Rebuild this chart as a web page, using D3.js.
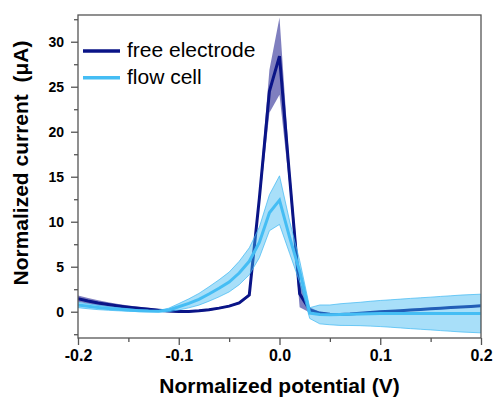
<!DOCTYPE html>
<html>
<head>
<meta charset="utf-8">
<script src="https://cdn.jsdelivr.net/npm/d3@7"></script>
<style>
  body { margin: 0; background: #fff; }
  svg { display: block; font-family: Arial, "Liberation Sans", sans-serif; }
</style>
</head>
<body>
<svg id="chart" width="493" height="398"></svg>
<script>
// potential grid (V)
const potential = [-0.20,-0.19,-0.18,-0.17,-0.16,-0.15,-0.14,-0.13,-0.12,-0.11,
  -0.10,-0.09,-0.08,-0.07,-0.06,-0.05,-0.04,-0.03,-0.02,-0.01,
  0.00,0.01,0.02,0.03,0.04,0.05,0.06,0.07,0.08,0.09,
  0.10,0.11,0.12,0.13,0.14,0.15,0.16,0.17,0.18,0.19,0.20];

// free electrode mean + sd (uA)
const freeMean = [1.45,1.2,0.98,0.8,0.64,0.5,0.38,0.27,0.16,0.07,
  0.02,0.03,0.1,0.22,0.4,0.62,0.98,1.85,12.6,24.5,
  28.4,15.0,2.0,0.2,-0.15,-0.28,-0.3,-0.26,-0.18,-0.08,
  0.0,0.06,0.12,0.19,0.26,0.32,0.39,0.46,0.52,0.59,0.65];
const freeSd = [0.35,0.32,0.29,0.26,0.23,0.2,0.18,0.16,0.14,0.12,
  0.12,0.1,0.1,0.1,0.1,0.1,0.12,0.2,0.8,2.4,
  4.3,1.2,1.5,0.3,0.12,0.1,0.1,0.1,0.1,0.1,
  0.1,0.1,0.1,0.1,0.1,0.1,0.1,0.1,0.1,0.1,0.1];

// flow cell mean + sd (uA)
const flowMean = [0.75,0.6,0.47,0.36,0.27,0.19,0.12,0.07,0.06,0.19,
  0.55,0.93,1.38,1.97,2.6,3.3,4.3,5.6,7.7,11.0,
  12.4,8.3,4.5,-0.15,-0.3,-0.35,-0.32,-0.28,-0.25,-0.22,
  -0.2,-0.2,-0.2,-0.2,-0.2,-0.2,-0.2,-0.2,-0.2,-0.2,-0.2];
const flowSd = [0.3,0.27,0.24,0.2,0.17,0.14,0.1,0.08,0.08,0.2,
  0.35,0.5,0.65,0.8,0.95,1.1,1.3,1.5,1.7,2.0,
  2.7,1.8,1.2,0.6,1.05,1.1,1.2,1.25,1.3,1.38,
  1.45,1.52,1.6,1.68,1.75,1.82,1.9,1.97,2.05,2.1,2.15];

const xTicks = [-0.2,-0.1,0.0,0.1,0.2];
const xTickLabels = ["-0.2","-0.1","0.0","0.1","0.2"];
const xMinor = [-0.15,-0.05,0.05,0.15];
const yTicks = [0,5,10,15,20,25,30];
const yMinor = [-2.5,2.5,7.5,12.5,17.5,22.5,27.5,32.5];
const seriesNames = ["free electrode","flow cell"];

const margin = {left:78, right:12, top:15, bottom:60};
const W = 493, H = 398;

const svg = d3.select("#chart");

var x = d3.scaleLinear().domain([-0.2,0.2]).range([margin.left, W - margin.right]);
var y = d3.scaleLinear().domain([-2.92,32.97]).range([H - margin.bottom, margin.top]);

const rows = potential.map((p,i) => ({p:p, fm:freeMean[i], fs:freeSd[i], cm:flowMean[i], cs:flowSd[i]}));

const darkCol = "#0a1487", lightCol = "#45bdf4";

// clip to plot
svg.append("clipPath").attr("id","plotclip")
  .append("rect")
  .attr("x", margin.left).attr("y", margin.top)
  .attr("width", W - margin.left - margin.right)
  .attr("height", H - margin.top - margin.bottom);

const plot = svg.append("g").attr("clip-path","url(#plotclip)");

// free electrode band + line
plot.append("path")
  .datum(rows)
  .attr("d", d3.area().x(d => x(d.p)).y0(d => y(d.fm - d.fs)).y1(d => y(d.fm + d.fs)))
  .attr("fill", "#000080").attr("fill-opacity", 0.5);

plot.append("path")
  .datum(rows)
  .attr("d", d3.line().x(d => x(d.p)).y(d => y(d.fm)))
  .attr("fill","none").attr("stroke", darkCol).attr("stroke-width", 3)
  .attr("stroke-linejoin","miter");

// flow cell band + line
plot.append("path")
  .datum(rows)
  .attr("d", d3.area().x(d => x(d.p)).y0(d => y(d.cm - d.cs)).y1(d => y(d.cm + d.cs)))
  .attr("fill", "#3fb8f2").attr("fill-opacity", 0.45)
  .attr("stroke", "#3fb8f2").attr("stroke-opacity", 0.7).attr("stroke-width", 1);

plot.append("path")
  .datum(rows)
  .attr("d", d3.line().x(d => x(d.p)).y(d => y(d.cm)))
  .attr("fill","none").attr("stroke", lightCol).attr("stroke-width", 3)
  .attr("stroke-linejoin","miter");

// frame
const axisCol = "#555";
svg.append("rect")
  .attr("x", margin.left).attr("y", margin.top)
  .attr("width", W - margin.left - margin.right)
  .attr("height", H - margin.top - margin.bottom)
  .attr("fill","none").attr("stroke", axisCol).attr("stroke-width", 1.3);

// x axis
const xAxis = svg.append("g")
  .attr("transform", `translate(0,${H - margin.bottom})`)
  .call(d3.axisBottom(x).tickValues(xTicks).tickSize(7).tickFormat((d,i) => xTickLabels[i]));
xAxis.select(".domain").remove();
xAxis.selectAll("line").attr("stroke", axisCol).attr("stroke-width", 1.3);
xAxis.selectAll("text")
  .attr("fill","#000").attr("y", 12).attr("dy","0.71em")
  .style("font-size","16px").style("font-weight","bold");

svg.append("g")
  .attr("transform", `translate(0,${H - margin.bottom})`)
  .call(d3.axisBottom(x).tickValues(xMinor).tickSize(4).tickFormat(""))
  .call(g => g.select(".domain").remove())
  .selectAll("line").attr("stroke", axisCol).attr("stroke-width", 1.3);

// y axis
const yAxis = svg.append("g")
  .attr("transform", `translate(${margin.left},0)`)
  .call(d3.axisLeft(y).tickValues(yTicks).tickSize(7));
yAxis.select(".domain").remove();
yAxis.selectAll("line").attr("stroke", axisCol).attr("stroke-width", 1.3);
yAxis.selectAll("text")
  .attr("fill","#000").attr("x", -14)
  .style("font-size","14px").style("font-weight","bold");

svg.append("g")
  .attr("transform", `translate(${margin.left},0)`)
  .call(d3.axisLeft(y).tickValues(yMinor).tickSize(4).tickFormat(""))
  .call(g => g.select(".domain").remove())
  .selectAll("line").attr("stroke", axisCol).attr("stroke-width", 1.3);

// axis titles
svg.append("text")
  .attr("x", (margin.left + W - margin.right)/2).attr("y", 393)
  .attr("text-anchor","middle")
  .style("font-size","21px").style("font-weight","bold")
  .text("Normalized potential (V)");

svg.append("text")
  .attr("transform", "translate(28,163) rotate(-90)")
  .attr("text-anchor","middle")
  .style("font-size","21px").style("font-weight","bold").style("white-space","pre")
  .text("Normalized current  (μA)");

// legend
const legend = svg.append("g");
[darkCol, lightCol].forEach((c,i) => {
  legend.append("line")
    .attr("x1", 83).attr("x2", 120)
    .attr("y1", 51 + i*26.7).attr("y2", 51 + i*26.7)
    .attr("stroke", c).attr("stroke-width", 3.5);
  legend.append("text")
    .attr("x", 127).attr("y", 57 + i*26.7)
    .style("font-size","21px")
    .text(seriesNames[i]);
});
</script>
</body>
</html>
